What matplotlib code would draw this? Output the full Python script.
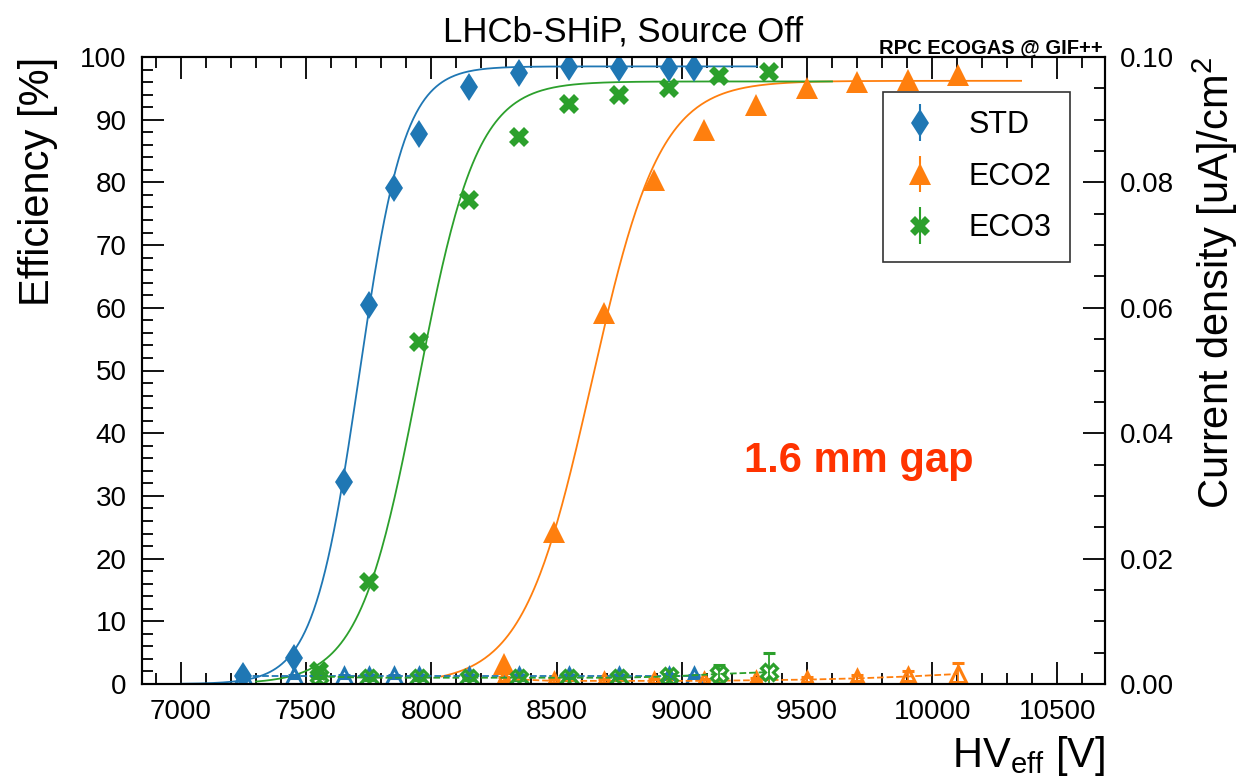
import numpy as np
import matplotlib
matplotlib.use('Agg')
import matplotlib.pyplot as plt
from matplotlib.ticker import MultipleLocator, FormatStrFormatter
from matplotlib.legend_handler import HandlerErrorbar

plt.rcParams['font.family'] = ['Liberation Sans', 'DejaVu Sans']
plt.rcParams['mathtext.fontset'] = 'custom'
plt.rcParams['mathtext.rm'] = 'Liberation Sans'
plt.rcParams['mathtext.it'] = 'Liberation Sans:italic'

# efficiency data [%] vs effective HV [V]
hv_std = [7250, 7450, 7650, 7750, 7850, 7950, 8150, 8350, 8550, 8750, 8950, 9050]
eff_std = [1.3, 4.1, 32.2, 60.4, 79.1, 87.7, 95.2, 97.4, 98.4, 98.3, 98.2, 98.2]
hv_eco2 = [8290, 8490, 8690, 8890, 9090, 9295, 9500, 9700, 9905, 10105]
eff_eco2 = [3.2, 24.2, 59.2, 80.4, 88.4, 92.3, 95.1, 96.0, 96.3, 97.1]
hv_eco3 = [7550, 7750, 7950, 8150, 8350, 8550, 8750, 8950, 9150, 9350]
eff_eco3 = [2.1, 16.3, 54.5, 77.2, 87.2, 92.5, 93.9, 95.0, 97.0, 97.6]

# current density [uA/cm2]
cur_std = [0.0012, 0.0012, 0.0012, 0.0012, 0.0012, 0.0012, 0.0012, 0.0012, 0.0012, 0.0012, 0.0012, 0.0012]
cur_std_err = [0.0003] * 12
cur_eco2 = [0.0008, 0.0005, 0.0005, 0.0005, 0.0005, 0.0006, 0.0007, 0.0009, 0.0012, 0.0016]
cur_eco2_err = [0.0003, 0.0003, 0.0003, 0.0003, 0.0003, 0.0003, 0.0004, 0.0005, 0.0008, 0.0018]
cur_eco3 = [0.0012, 0.0010, 0.0010, 0.0010, 0.0010, 0.0010, 0.0010, 0.0012, 0.0016, 0.0019]
cur_eco3_err = [0.0003, 0.0003, 0.0003, 0.0003, 0.0003, 0.0003, 0.0003, 0.0004, 0.0014, 0.0031]

# sigmoid fit parameters: plateau, slope, HV at 50%
fit_std = (98.5, 0.0110, 7712)
fit_eco2 = (96.2, 0.0073, 8640)
fit_eco3 = (96.1, 0.0085, 7948)

c_std, c_eco2, c_eco3 = '#1f77b4', '#ff7f0e', '#2ca02c'


def sigmoid(x, p):
    emax, lam, hv50 = p
    return emax / (1 + np.exp(-lam * (x - hv50)))


fig = plt.figure(figsize=(12.56, 7.76), dpi=100)
ax = fig.add_axes([142 / 1256, 1 - 684 / 776, 963 / 1256, 627 / 776])
ax2 = ax.twinx()

series = [
    ('STD', hv_std, eff_std, cur_std, cur_std_err, fit_std, c_std, 'd', 14.5),
    ('ECO2', hv_eco2, eff_eco2, cur_eco2, cur_eco2_err, fit_eco2, c_eco2, '^', 15.5),
    ('ECO3', hv_eco3, eff_eco3, cur_eco3, cur_eco3_err, fit_eco3, c_eco3, 'X', 15),
]

handles = []
for name, hv, eff, cur, cur_err, fit, col, mk, ms in series:
    xs = np.linspace(hv[0] - 250, hv[-1] + 250, 400)
    ax.plot(xs, sigmoid(xs, fit), color=col, lw=1.3, zorder=2)
    h = ax.errorbar(hv, eff, yerr=0.3, fmt=mk, color=col, ms=ms, mew=0,
                    capsize=4, elinewidth=1.5, capthick=1.5, zorder=3, label=name)
    handles.append(h)
    open_mk = 'X' if mk == 'X' else '^'
    ax2.errorbar(hv, cur, yerr=cur_err, fmt=open_mk, ls='--', lw=1.3, color=col,
                 mfc='none', mec=col, ms=11, mew=2.2, capsize=4, elinewidth=1.3,
                 capthick=1.5, zorder=2)

ax.set_xlim(6845, 10690)
ax.set_ylim(0, 100)
ax2.set_ylim(0, 0.1)

ax.xaxis.set_major_locator(MultipleLocator(500))
ax.xaxis.set_minor_locator(MultipleLocator(100))
ax.yaxis.set_major_locator(MultipleLocator(10))
ax.yaxis.set_minor_locator(MultipleLocator(2))
ax2.yaxis.set_major_locator(MultipleLocator(0.02))
ax2.yaxis.set_minor_locator(MultipleLocator(0.005))
ax2.yaxis.set_major_formatter(FormatStrFormatter('%.2f'))

ax.tick_params(which='both', direction='in', top=True, right=False, width=1.3)
ax.tick_params(which='major', length=16, labelsize=20, pad=11)
ax.tick_params(which='minor', length=8)
ax2.tick_params(which='both', direction='in', right=True, width=1.3)
ax2.tick_params(which='major', length=16, labelsize=20, pad=11)
ax2.tick_params(which='minor', length=8)
for a in (ax, ax2):
    for s in a.spines.values():
        s.set_linewidth(1.5)

ax.set_ylabel('Efficiency [%]', fontsize=30, loc='top', labelpad=16)
ax.set_xlabel(r'HV$_{\rm eff}$ [V]', fontsize=30, loc='right', labelpad=6)
ax2.set_ylabel(r'Current density [uA]/cm$^{2}$', fontsize=30, loc='top', labelpad=12)

ax.set_title('LHCb-SHiP, Source Off', fontsize=25, pad=11)
fig.text(1103 / 1256, 1 - 53 / 776, 'RPC ECOGAS @ GIF++', fontsize=14.5,
         fontweight='bold', ha='right', va='baseline')
ax.text(0.625, 0.355, '1.6 mm gap', transform=ax.transAxes, fontsize=30,
        fontweight='bold', color='#ff3300', ha='left', va='center')

leg = ax.legend(handles=handles, loc='upper left', bbox_to_anchor=(0.7695, 0.944),
                borderaxespad=0, fontsize=22, frameon=True, fancybox=False,
                edgecolor='black', borderpad=0.6, labelspacing=0.7,
                handletextpad=1.0, handlelength=1.2,
                handler_map={type(handles[0]): HandlerErrorbar(yerr_size=0.6)})
leg.get_frame().set_linewidth(1.2)
leg.set_zorder(5)

fig.savefig('out.png', dpi=100)
